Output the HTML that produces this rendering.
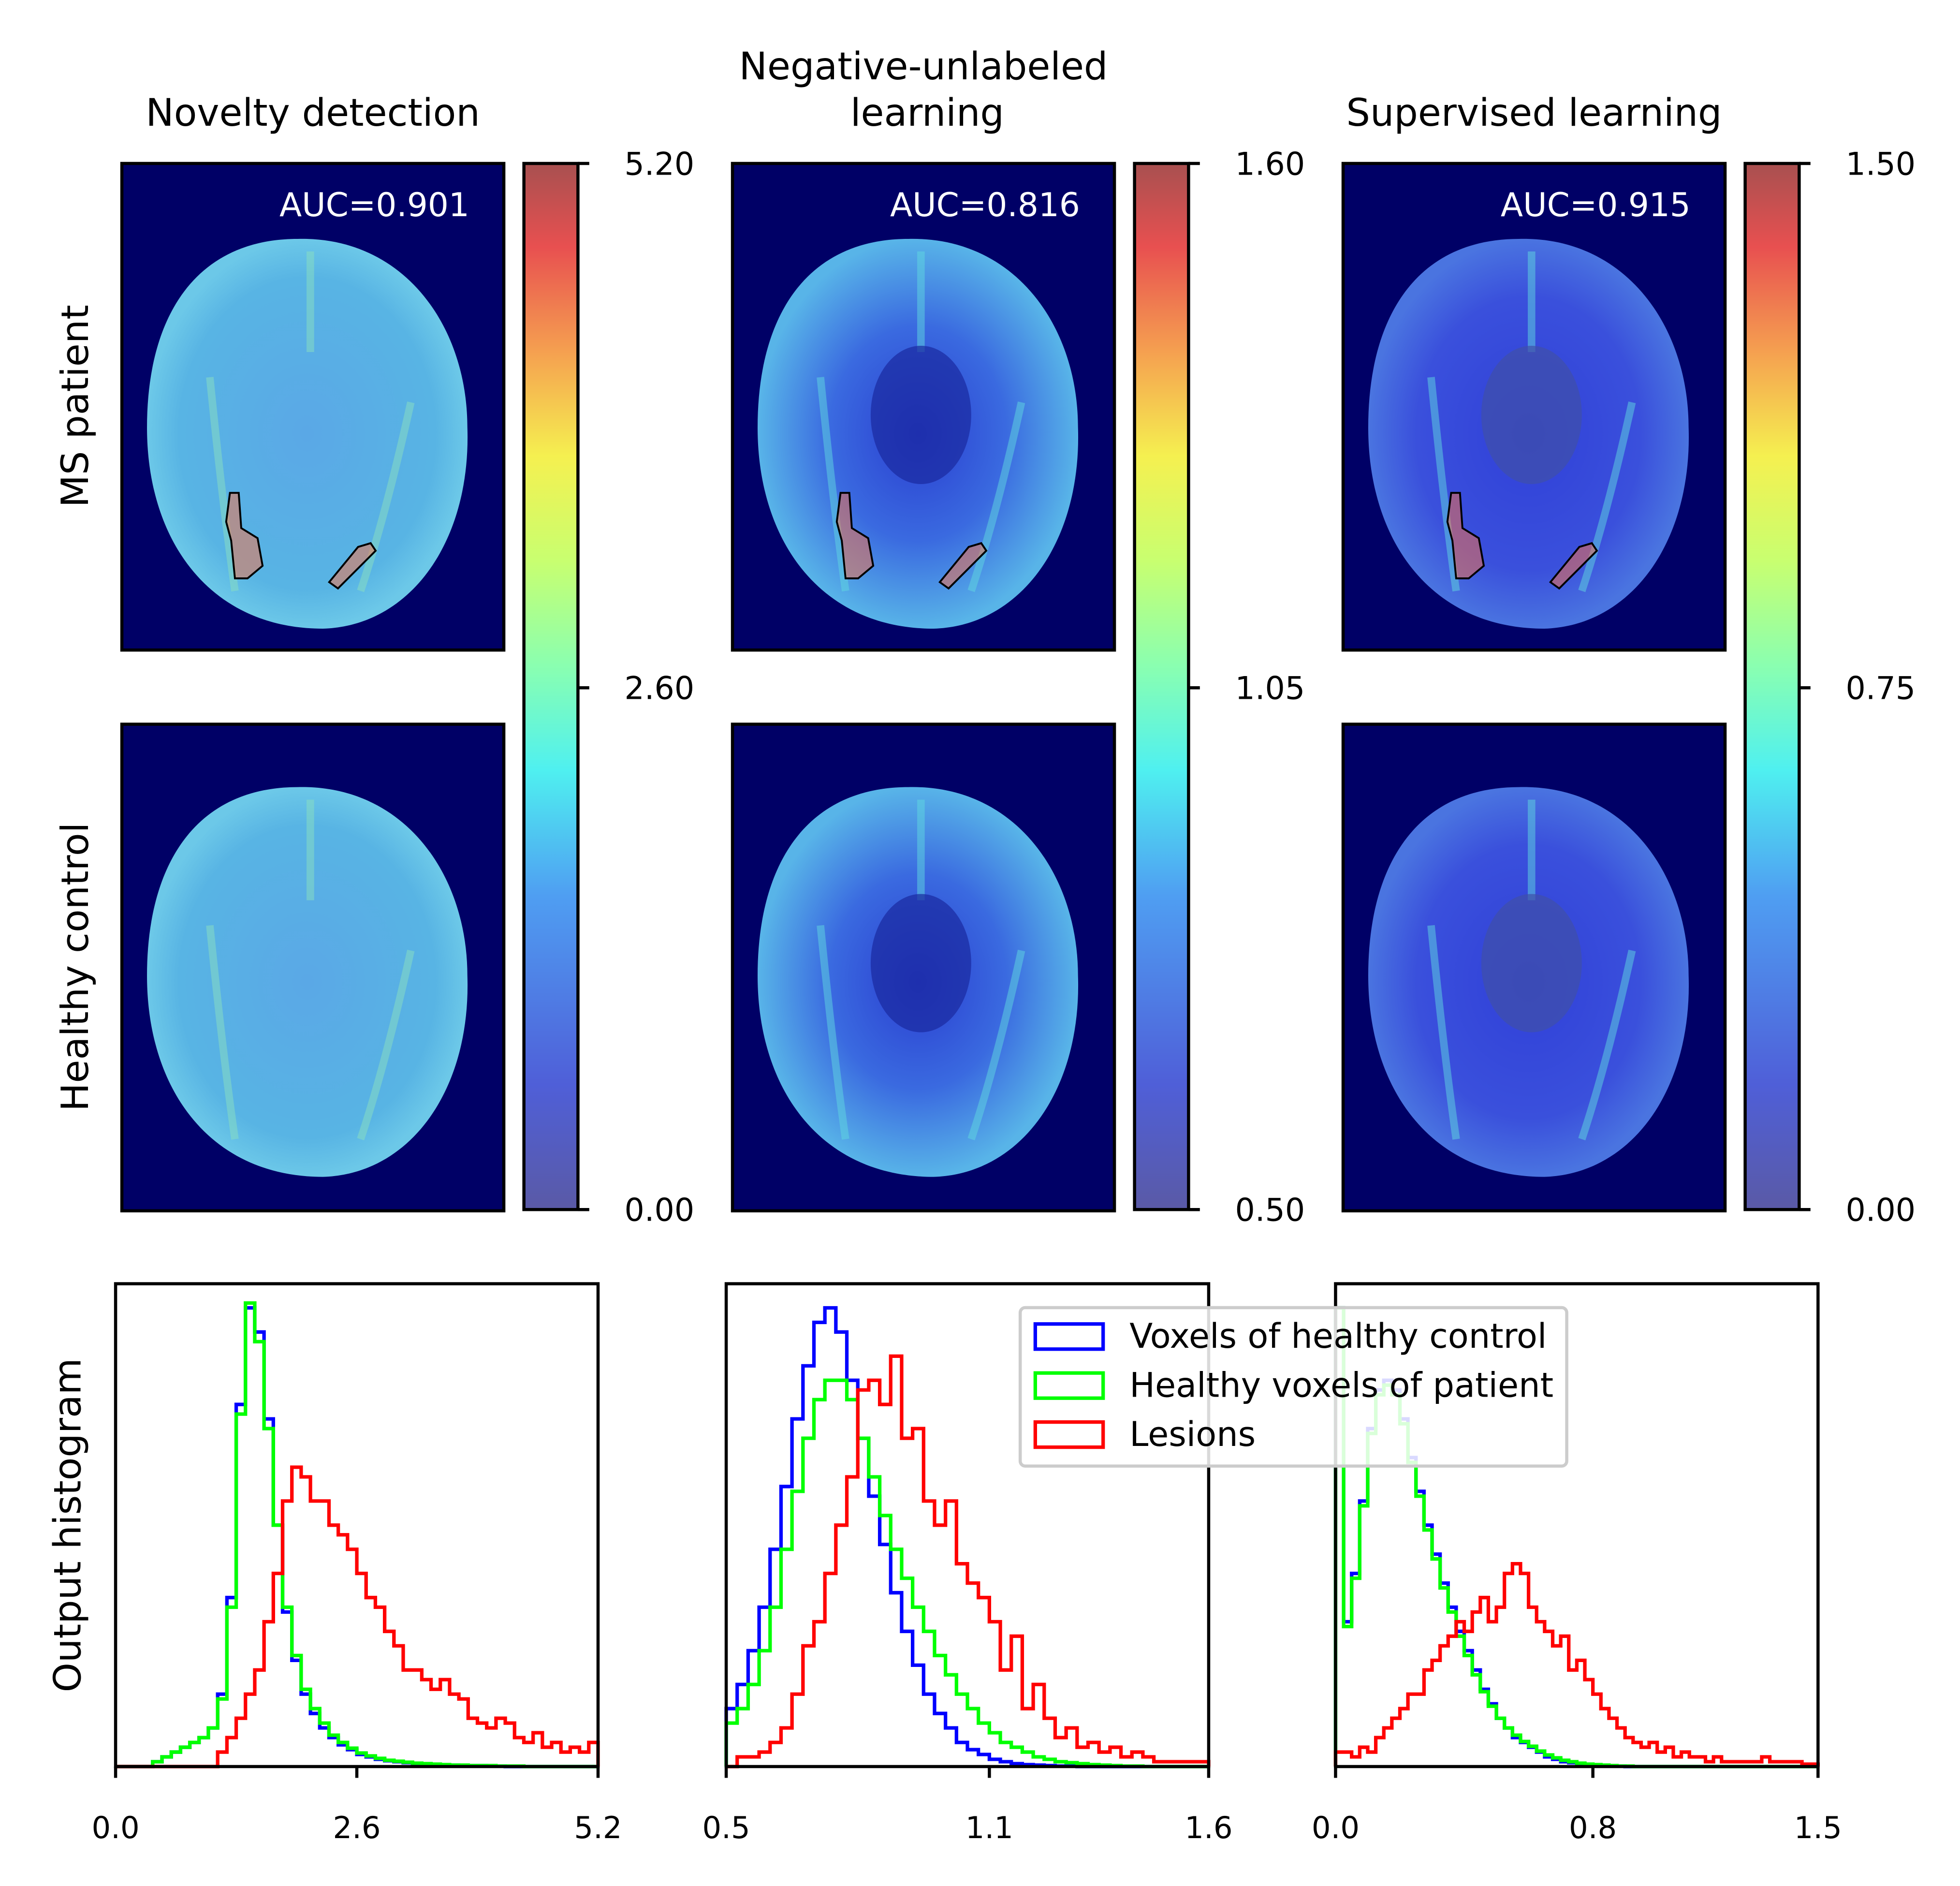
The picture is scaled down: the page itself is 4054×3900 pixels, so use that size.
<!DOCTYPE html>
<html><head><meta charset="utf-8"><style>
html,body{margin:0;padding:0;background:#fff}
svg{display:block}
text{font-family:"DejaVu Sans","Liberation Sans",sans-serif;fill:#000}
</style></head><body>
<svg id="fig" width="4054" height="3900" viewBox="0 0 1560 1500" preserveAspectRatio="none" xmlns="http://www.w3.org/2000/svg">
<defs>
<linearGradient id="jet" x1="0" y1="1" x2="0" y2="0">
<stop offset="0" stop-color="#5a5aa6"/><stop offset="0.12" stop-color="#4f5fd8"/>
<stop offset="0.3" stop-color="#4f9ef2"/><stop offset="0.42" stop-color="#4ff0f0"/>
<stop offset="0.52" stop-color="#8affb0"/><stop offset="0.62" stop-color="#c8ff70"/>
<stop offset="0.72" stop-color="#f5f050"/><stop offset="0.82" stop-color="#f5a050"/>
<stop offset="0.92" stop-color="#e85050"/><stop offset="1" stop-color="#a85050"/>
</linearGradient>
<radialGradient id="b1"><stop offset="0" stop-color="#5aa8e6"/><stop offset="0.8" stop-color="#58b4e4"/><stop offset="1" stop-color="#6cc8e8"/></radialGradient>
<radialGradient id="b2"><stop offset="0" stop-color="#2a3ed0"/><stop offset="0.55" stop-color="#3a6ae0"/><stop offset="1" stop-color="#58b4e8"/></radialGradient>
<radialGradient id="b3"><stop offset="0" stop-color="#3040d8"/><stop offset="0.7" stop-color="#3a50dc"/><stop offset="1" stop-color="#4a74e0"/></radialGradient>
</defs>
<g id="static"></g>
<g id="hists"></g>
</svg>
<script>
// ---- histogram data ----
const h1Range = [0, 5.2];
const h1Blue = [0,0,0,0,0.01,0.02,0.03,0.04,0.05,0.06,0.08,0.15,0.35,0.75,0.95,0.9,0.72,0.5,0.32,0.22,0.15,0.11,0.08,0.06,0.045,0.035,0.025,0.02,0.015,0.012,0.01,0.008,0.006,0.005,0.004,0.003,0.003,0.002,0.002,0.002,0.001,0.001,0,0,0,0,0,0,0,0,0,0];
const h1Green = [0,0,0,0,0.01,0.02,0.03,0.04,0.05,0.06,0.08,0.14,0.33,0.73,0.96,0.88,0.7,0.5,0.33,0.23,0.16,0.12,0.09,0.065,0.05,0.038,0.028,0.022,0.017,0.013,0.011,0.009,0.007,0.006,0.005,0.004,0.003,0.003,0.002,0.002,0.002,0.001,0.001,0.001,0,0,0,0,0,0,0,0];
const h1Red = [0,0,0,0,0,0,0,0,0,0,0,0.03,0.06,0.1,0.15,0.2,0.3,0.4,0.55,0.62,0.6,0.55,0.55,0.5,0.48,0.45,0.4,0.35,0.33,0.28,0.25,0.2,0.2,0.18,0.16,0.18,0.15,0.14,0.1,0.09,0.08,0.1,0.09,0.06,0.05,0.07,0.04,0.05,0.03,0.04,0.03,0.05];
const h2Range = [0.5, 1.6];
const h2Blue = [0.12,0.17,0.24,0.33,0.45,0.58,0.72,0.83,0.92,0.95,0.9,0.8,0.68,0.56,0.46,0.36,0.28,0.21,0.15,0.11,0.08,0.05,0.035,0.025,0.015,0.01,0.006,0.004,0.003,0.002,0.001,0.001,0,0,0,0,0,0,0,0,0,0,0,0];
const h2Green = [0.09,0.12,0.17,0.24,0.33,0.45,0.57,0.68,0.76,0.8,0.8,0.76,0.68,0.6,0.52,0.45,0.39,0.33,0.28,0.23,0.19,0.15,0.12,0.09,0.07,0.05,0.04,0.03,0.02,0.015,0.01,0.008,0.006,0.004,0.003,0.002,0.001,0.001,0,0,0,0,0,0];
const h2Red = [0,0.02,0.02,0.03,0.05,0.08,0.15,0.25,0.3,0.4,0.5,0.6,0.78,0.8,0.75,0.85,0.68,0.7,0.55,0.5,0.55,0.42,0.38,0.35,0.3,0.2,0.27,0.12,0.17,0.1,0.06,0.08,0.04,0.05,0.03,0.04,0.02,0.03,0.02,0.01,0.01,0.01,0.01,0.01];
const h3Range = [0, 1.5];
const h3Blue = [0.95,0.3,0.4,0.55,0.7,0.78,0.8,0.78,0.72,0.64,0.57,0.5,0.44,0.38,0.33,0.28,0.24,0.2,0.16,0.13,0.1,0.08,0.06,0.05,0.04,0.03,0.02,0.015,0.01,0.008,0.006,0.004,0.003,0.002,0.001,0.001,0,0,0,0,0,0,0,0,0,0,0,0,0,0,0,0,0,0,0,0,0,0,0,0];
const h3Green = [0.95,0.29,0.39,0.54,0.69,0.77,0.79,0.77,0.71,0.63,0.56,0.49,0.43,0.37,0.32,0.27,0.23,0.19,0.155,0.125,0.1,0.08,0.065,0.052,0.042,0.032,0.024,0.018,0.013,0.01,0.007,0.005,0.004,0.003,0.002,0.001,0.001,0,0,0,0,0,0,0,0,0,0,0,0,0,0,0,0,0,0,0,0,0,0,0];
const h3Red = [0.03,0.03,0.02,0.04,0.03,0.06,0.08,0.1,0.12,0.15,0.15,0.2,0.22,0.25,0.27,0.3,0.28,0.32,0.35,0.3,0.33,0.4,0.42,0.4,0.33,0.3,0.28,0.25,0.27,0.2,0.22,0.18,0.15,0.12,0.1,0.08,0.06,0.05,0.04,0.05,0.03,0.04,0.02,0.03,0.02,0.02,0.01,0.02,0.01,0.01,0.01,0.01,0.01,0.02,0.01,0.01,0.01,0.01,0.005,0.005];
const h1Ticks = ["0.0","2.6","5.2"];
const h2Ticks = ["0.5","1.1","1.6"];
const h3Ticks = ["0.0","0.8","1.5"];
const cb1Ticks = ["5.20","2.60","0.00"];
const cb2Ticks = ["1.60","1.05","0.50"];
const cb3Ticks = ["1.50","0.75","0.00"];
const aucValues = ["AUC=0.901","AUC=0.816","AUC=0.915"];

const NS="http://www.w3.org/2000/svg";
function mk(parent,tag,attrs,txt){const e=document.createElementNS(NS,tag);for(const k in attrs)e.setAttribute(k,attrs[k]);if(txt!==undefined)e.textContent=txt;parent.appendChild(e);return e;}
const S=document.getElementById('static');
const H=document.getElementById('hists');

let t;
t=mk(S,'text',{x:249,y:100,'font-size':30,'text-anchor':'middle'},'Novelty detection');


t=mk(S,'text',{x:735,y:63,'font-size':30,'text-anchor':'middle'},'Negative-unlabeled');


t=mk(S,'text',{x:738,y:100,'font-size':30,'text-anchor':'middle'},'learning');


t=mk(S,'text',{x:1221,y:100,'font-size':30,'text-anchor':'middle'},'Supervised learning');


t=mk(S,'text',{x:0,y:0,'font-size':30,'text-anchor':'middle',transform:'translate(70,323) rotate(-90)'},'MS patient');


t=mk(S,'text',{x:0,y:0,'font-size':30,'text-anchor':'middle',transform:'translate(70,769) rotate(-90)'},'Healthy control');


t=mk(S,'text',{x:0,y:0,'font-size':30,'text-anchor':'middle',transform:'translate(64,1213) rotate(-90)'},'Output histogram');



const colX=[97,583,1069];
const fills=['url(#b1)','url(#b2)','url(#b3)'];
const cbTicks=[cb1Ticks,cb2Ticks,cb3Ticks];
for(let c=0;c<3;c++){
  const x0=colX[c];
  [130,576].forEach((y0,r)=>{
    const g=mk(S,'g',{});
    
    
    mk(g,'rect',{x:x0,y:y0,width:304,height:387,fill:'#000066'});
    const cx=x0+150, cy=y0+(r===0?210:200);
    mk(g,'path',{d:`M${cx-10},${cy-150} C${cx+75},${cy-152} ${cx+125},${cy-80} ${cx+125},${cy} C${cx+128},${cy+90} ${cx+80},${cy+158} ${cx+10},${cy+160} C${cx-80},${cy+160} ${cx-130},${cy+90} ${cx-130},${cy} C${cx-130},${cy-90} ${cx-90},${cy-150} ${cx-10},${cy-150} Z`,fill:fills[c]});
    mk(g,'path',{d:`M${cx-80},${cy-40} Q${cx-70},${cy+60} ${cx-60},${cy+130} M${cx+80},${cy-20} Q${cx+60},${cy+70} ${cx+40},${cy+130} M${cx},${cy-140} L${cx},${cy-60}`,stroke:c===0?'#8ae0c0':'#60d8e0',"stroke-width":6,fill:'none',opacity:0.5});
    if(c>0) mk(g,'ellipse',{cx:cx,cy:cy-10,rx:40,ry:55,fill:c===1?'#1a2aa0':'#4050a8',opacity:0.7});
    mk(g,'rect',{x:x0,y:y0,width:304,height:387,fill:'none',stroke:'#000','stroke-width':2.5});
    if(r===0){
      mk(g,'path',{d:`M${x0+86},${y0+262} L${x0+93},${y0+262} L${x0+95},${y0+290} L${x0+108},${y0+298} L${x0+112},${y0+320} L${x0+100},${y0+330} L${x0+90},${y0+330} L${x0+87},${y0+300} L${x0+83},${y0+285} Z`,fill:'#ff7040',stroke:'#000','stroke-width':1.5,'fill-opacity':0.5});
      mk(g,'path',{d:`M${x0+165},${y0+333} L${x0+188},${y0+305} L${x0+198},${y0+302} L${x0+202},${y0+308} L${x0+172},${y0+338} Z`,fill:'#ff7040',stroke:'#000','stroke-width':1.5,'fill-opacity':0.5});
      t=mk(g,'text',{x:x0+201,y:y0+42,'font-size':26,'text-anchor':'middle',style:'fill:#fff'},aucValues[c]);
      
      
    }
  });
  const cbx=x0+320;
  const cb=mk(S,'g',{});
  
  
  mk(cb,'rect',{x:cbx,y:130,width:43,height:832,fill:'url(#jet)',stroke:'#000','stroke-width':2.5});
  [130,547,962].forEach((ty,i)=>{
    mk(cb,'line',{x1:cbx+43,x2:cbx+52,y1:ty,y2:ty,stroke:'#000','stroke-width':2.5});
    const tl=mk(cb,'text',{x:cbx+80,y:ty+9,'font-size':25},cbTicks[c][i]);
    
    
  });
}

const hists=[
 {x0:92,range:h1Range,ticks:h1Ticks,series:[h1Blue,h1Green,h1Red]},
 {x0:578,range:h2Range,ticks:h2Ticks,series:[h2Blue,h2Green,h2Red]},
 {x0:1063,range:h3Range,ticks:h3Ticks,series:[h3Blue,h3Green,h3Red]}
];
const colors=['#0000ff','#00ff00','#ff0000'];
const seriesNames=['healthy-control','healthy-voxels-patient','lesions'];
const axTop=1021,axBot=1405,axW=384;
hists.forEach((h,i)=>{
  const g=mk(H,'g',{});
  
  
  const xs=v=>h.x0+(v-h.range[0])/(h.range[1]-h.range[0])*axW;
  const ys=v=>axBot-v*(axBot-axTop);
  mk(g,'rect',{x:h.x0,y:axTop,width:axW,height:axBot-axTop,fill:'#fff'});
  h.series.forEach((arr,s)=>{
    const bw=(h.range[1]-h.range[0])/arr.length;
    let d=`M${xs(h.range[0])},${axBot}`;
    arr.forEach((v,k)=>{const a=h.range[0]+k*bw;d+=` L${xs(a)},${ys(v)} L${xs(a+bw)},${ys(v)}`;});
    d+=` L${xs(h.range[1])},${axBot}`;
    const p=mk(g,'path',{d:d,fill:'none',stroke:colors[s],'stroke-width':2.8});
    
    
  });
  mk(g,'rect',{x:h.x0,y:axTop,width:axW,height:axBot-axTop,fill:'none',stroke:'#000','stroke-width':2.5});
  h.ticks.forEach((tk)=>{
    const tx=xs(parseFloat(tk));
    mk(g,'line',{x1:tx,x2:tx,y1:axBot,y2:axBot+9,stroke:'#000','stroke-width':2.5});
    const tl=mk(g,'text',{x:tx,y:axBot+57,'font-size':24,'text-anchor':'middle'},tk);
    
    
  });
});
const lg=mk(H,'g',{});


mk(lg,'rect',{x:812,y:1040,width:435,height:126,rx:4,fill:'#fff','fill-opacity':0.85,stroke:'#cccccc','stroke-width':2.5});
const labs=['Voxels of healthy control','Healthy voxels of patient','Lesions'];
labs.forEach((l,k)=>{
  const y=1063+k*39;
  const e=mk(lg,'g',{});
  
  
  mk(e,'rect',{x:824,y:y-10,width:54,height:20,fill:'none',stroke:colors[k],'stroke-width':2.8});
  mk(e,'text',{x:899,y:y+9,'font-size':27},l);
});
</script>
</body></html>
